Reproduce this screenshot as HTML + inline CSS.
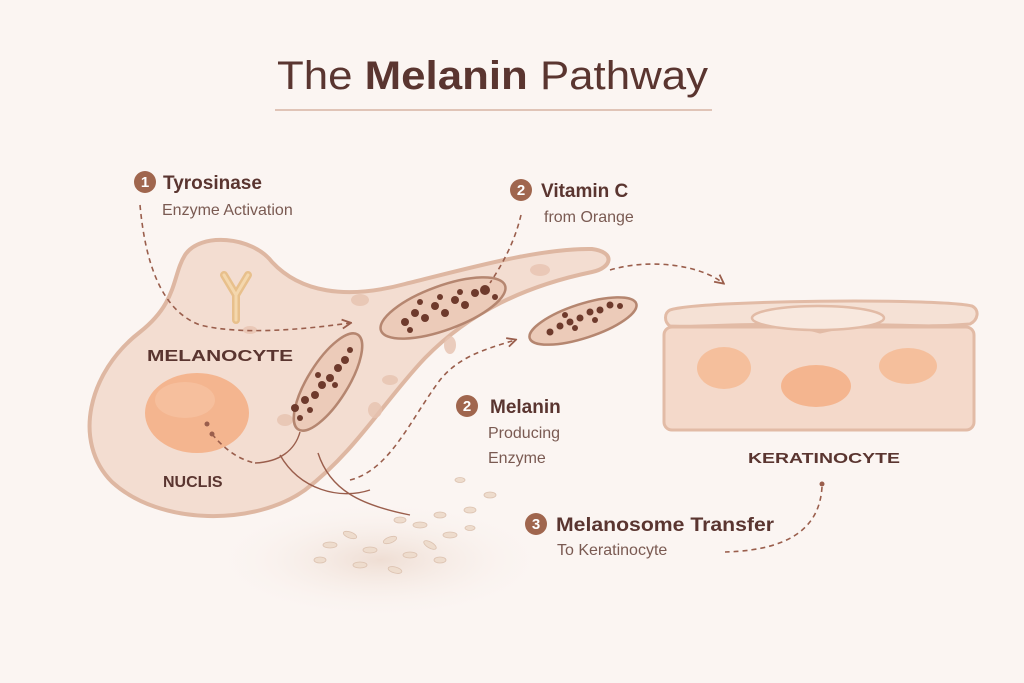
<!DOCTYPE html>
<html><head><meta charset="utf-8"><style>
html,body{margin:0;padding:0;background:#fbf5f2;}
svg{display:block;}
text{font-family:"Liberation Sans",sans-serif;}
</style></head><body>
<svg width="1024" height="683" viewBox="0 0 1024 683" xmlns="http://www.w3.org/2000/svg">
<defs>
<marker id="ah" viewBox="0 0 10 10" refX="8" refY="5" markerWidth="7" markerHeight="7" orient="auto"><path d="M1,1 L9,5 L1,9" fill="none" stroke="#9a5e4c" stroke-width="1.6"/></marker>
<radialGradient id="sh" cx="0.5" cy="0.5" r="0.5"><stop offset="0" stop-color="#ecd8cc" stop-opacity="0.8"/><stop offset="1" stop-color="#fbf5f2" stop-opacity="0"/></radialGradient>
</defs>
<rect width="1024" height="683" fill="#fbf5f2"/>
<ellipse cx="380" cy="560" rx="170" ry="60" fill="url(#sh)"/>
<!-- title -->
<text x="277" y="89" font-size="40" fill="#5a3530" textLength="431" lengthAdjust="spacingAndGlyphs">The <tspan font-weight="bold">Melanin</tspan> Pathway</text>
<line x1="275" y1="110" x2="712" y2="110" stroke="#d7b3a3" stroke-width="1.5"/>
<!-- cell -->
<path d="M185,255 C200,232 252,236 272,262 C300,292 345,300 405,284 C470,268 540,248 592,249 C616,252 612,268 592,272 C525,286 470,312 425,358 C385,400 355,452 305,490 C255,526 160,526 112,482 C72,442 88,372 140,332 C178,302 172,276 185,255 Z" fill="#f3ddd1" stroke="#deb7a2" stroke-width="4"/>
<g fill="#e7c3b0" opacity="0.8">
<ellipse cx="360" cy="300" rx="9" ry="6"/><ellipse cx="540" cy="270" rx="10" ry="6"/><ellipse cx="390" cy="380" rx="8" ry="5"/><ellipse cx="375" cy="410" rx="7" ry="8"/><ellipse cx="450" cy="345" rx="6" ry="9"/><ellipse cx="285" cy="420" rx="8" ry="6"/><ellipse cx="250" cy="330" rx="7" ry="4"/>
</g>
<!-- Y -->
<path d="M224,275 L236,295 L248,275 M236,295 L236,320" fill="none" stroke="#e8c08c" stroke-width="8" stroke-linecap="round"/>
<path d="M224,275 L236,295 L248,275 M236,295 L236,320" fill="none" stroke="#f4d7ad" stroke-width="3" stroke-linecap="round"/>
<!-- nucleus -->
<ellipse cx="197" cy="413" rx="52" ry="40" fill="#f4b58f"/>
<ellipse cx="185" cy="400" rx="30" ry="18" fill="#f7c6a6" opacity="0.6"/>
<circle cx="207" cy="424" r="2.5" fill="#9a5e4c"/><circle cx="212" cy="434" r="2.5" fill="#9a5e4c"/>
<!-- melanosomes -->
<g fill="#eccbb9" stroke="#b58670" stroke-width="2.5">
<ellipse cx="443" cy="308" rx="66" ry="22" transform="rotate(-20 443 308)"/>
<ellipse cx="328" cy="382" rx="56" ry="20" transform="rotate(-58 328 382)"/>
<ellipse cx="583" cy="321" rx="56" ry="17" transform="rotate(-18 583 321)"/>
</g>
<g fill="#6e3a2c">
<circle cx="405" cy="322" r="4"/><circle cx="415" cy="313" r="4"/><circle cx="425" cy="318" r="4"/><circle cx="435" cy="306" r="4"/><circle cx="445" cy="313" r="4"/><circle cx="455" cy="300" r="4"/><circle cx="465" cy="305" r="4"/><circle cx="475" cy="293" r="4"/><circle cx="485" cy="290" r="5"/><circle cx="420" cy="302" r="3"/><circle cx="440" cy="297" r="3"/><circle cx="460" cy="292" r="3"/><circle cx="410" cy="330" r="3"/><circle cx="495" cy="297" r="3"/>
<circle cx="295" cy="408" r="4"/><circle cx="305" cy="400" r="4"/><circle cx="315" cy="395" r="4"/><circle cx="322" cy="385" r="4"/><circle cx="330" cy="378" r="4"/><circle cx="338" cy="368" r="4"/><circle cx="345" cy="360" r="4"/><circle cx="350" cy="350" r="3"/><circle cx="310" cy="410" r="3"/><circle cx="335" cy="385" r="3"/><circle cx="318" cy="375" r="3"/><circle cx="300" cy="418" r="3"/>
<circle cx="550" cy="332" r="3.5"/><circle cx="560" cy="326" r="3.5"/><circle cx="570" cy="322" r="3.5"/><circle cx="580" cy="318" r="3.5"/><circle cx="590" cy="312" r="3.5"/><circle cx="600" cy="310" r="3.5"/><circle cx="610" cy="305" r="3.5"/><circle cx="620" cy="306" r="3"/><circle cx="575" cy="328" r="3"/><circle cx="595" cy="320" r="3"/><circle cx="565" cy="315" r="3"/>
</g>
<!-- keratinocyte -->
<rect x="664" y="327" width="310" height="103" rx="8" fill="#f4d9ca" stroke="#e2bba6" stroke-width="3"/>
<path d="M670,310 C700,300 940,298 972,306 C980,310 978,320 970,324 C900,330 880,318 820,332 C770,318 720,328 670,326 C664,322 664,313 670,310 Z" fill="#f5e1d5" stroke="#e2bba6" stroke-width="3"/>
<ellipse cx="818" cy="318" rx="66" ry="12" fill="#f8e8de" stroke="#e2bba6" stroke-width="2.5"/>
<ellipse cx="724" cy="368" rx="27" ry="21" fill="#f5bf9c"/>
<ellipse cx="816" cy="386" rx="35" ry="21" fill="#f4b58f"/>
<ellipse cx="908" cy="366" rx="29" ry="18" fill="#f5bf9c"/>
<!-- rice grains -->
<g fill="#eedccd" stroke="#dcc2b0" stroke-width="0.8">
<ellipse cx="330" cy="545" rx="7" ry="3"/><ellipse cx="350" cy="535" rx="7" ry="3" transform="rotate(20 350 535)"/><ellipse cx="370" cy="550" rx="7" ry="3"/><ellipse cx="390" cy="540" rx="7" ry="3" transform="rotate(-20 390 540)"/><ellipse cx="410" cy="555" rx="7" ry="3"/><ellipse cx="430" cy="545" rx="7" ry="3" transform="rotate(30 430 545)"/><ellipse cx="450" cy="535" rx="7" ry="3"/><ellipse cx="360" cy="565" rx="7" ry="3"/><ellipse cx="395" cy="570" rx="7" ry="3" transform="rotate(15 395 570)"/><ellipse cx="420" cy="525" rx="7" ry="3"/><ellipse cx="440" cy="515" rx="6" ry="3"/><ellipse cx="470" cy="510" rx="6" ry="3"/><ellipse cx="490" cy="495" rx="6" ry="3"/><ellipse cx="460" cy="480" rx="5" ry="2.5"/><ellipse cx="400" cy="520" rx="6" ry="3"/><ellipse cx="320" cy="560" rx="6" ry="3"/><ellipse cx="440" cy="560" rx="6" ry="3"/><ellipse cx="470" cy="528" rx="5" ry="2.5"/>
</g>
<!-- connectors -->
<g fill="none" stroke="#9a5e4c" stroke-width="1.6" stroke-dasharray="5,4">
<path d="M140,205 C145,260 160,310 200,325 C240,335 300,330 350,323" marker-end="url(#ah)"/>
<path d="M521,215 C515,240 505,260 490,283"/>
<path d="M350,480 C390,470 410,420 440,380 C460,355 490,348 515,340" marker-end="url(#ah)"/>
<path d="M610,270 C650,258 700,265 723,283" marker-end="url(#ah)"/>
<path d="M822,487 C820,520 800,550 725,552"/>
<path d="M212,434 C225,450 240,460 255,463"/>
</g>
<circle cx="822" cy="484" r="2.5" fill="#9a5e4c"/>
<g fill="none" stroke="#9a5e4c" stroke-width="1.4">
<path d="M255,463 C280,462 295,450 300,432"/>
<path d="M280,455 C300,490 340,500 370,490" stroke-dasharray="0"/>
<path d="M318,453 C330,490 360,505 410,515"/>
</g>
<!-- labels -->
<g fill="#a0664e"><circle cx="145" cy="182" r="11"/><circle cx="521" cy="190" r="11"/><circle cx="467" cy="406" r="11"/><circle cx="536" cy="524" r="11"/></g>
<g fill="#fff" font-weight="bold" font-size="15" text-anchor="middle"><text x="145" y="187">1</text><text x="521" y="195">2</text><text x="467" y="411">2</text><text x="536" y="529">3</text></g>
<g fill="#5a3530">
<text x="163" y="189" font-size="19" font-weight="bold">Tyrosinase</text>
<text x="162" y="215" font-size="16" fill="#7a5a52">Enzyme Activation</text>
<text x="541" y="197" font-size="19" font-weight="bold">Vitamin C</text>
<text x="544" y="222" font-size="16" fill="#7a5a52">from Orange</text>
<text x="490" y="413" font-size="19" font-weight="bold">Melanin</text>
<text x="488" y="438" font-size="16" fill="#7a5a52">Producing</text>
<text x="488" y="463" font-size="16" fill="#7a5a52">Enzyme</text>
<text x="556" y="531" font-size="19" font-weight="bold" textLength="218" lengthAdjust="spacingAndGlyphs">Melanosome Transfer</text>
<text x="557" y="555" font-size="16" fill="#7a5a52">To Keratinocyte</text>
<text x="147" y="361" font-size="16" font-weight="bold" textLength="146" lengthAdjust="spacingAndGlyphs">MELANOCYTE</text>
<text x="163" y="487" font-size="16" font-weight="bold">NUCLIS</text>
<text x="748" y="463" font-size="15" font-weight="bold" textLength="152" lengthAdjust="spacingAndGlyphs">KERATINOCYTE</text>
</g>
</svg>
</body></html>
